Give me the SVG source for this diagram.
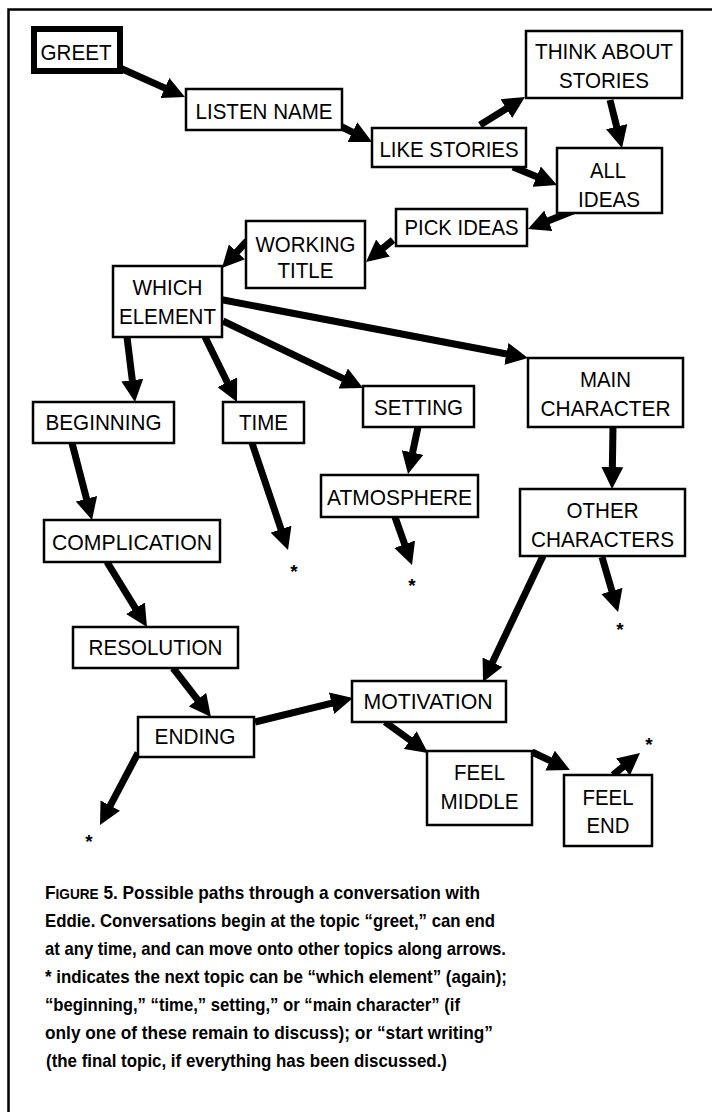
<svg xmlns="http://www.w3.org/2000/svg" width="712" height="1112" viewBox="0 0 712 1112">
<style>
.bx{fill:#fff;stroke:#000;stroke-width:2.5}
.lb{font-family:"Liberation Sans",Arial,sans-serif;font-size:22px;fill:#000;text-anchor:middle}
.ar{stroke:#000;stroke-width:7;fill:none;marker-end:url(#ah)}
.st{font-family:"Liberation Sans",Arial,sans-serif;font-size:19px;font-weight:bold;fill:#000;text-anchor:middle}
.cap{font-family:"Liberation Sans",Arial,sans-serif;font-size:19px;font-weight:bold;fill:#000}
</style>
<defs>
<marker id="ah" markerUnits="userSpaceOnUse" viewBox="0 0 22 22" refX="10" refY="11" markerWidth="22" markerHeight="22" orient="auto">
<path d="M0,0 L22,11 L0,22 Z" fill="#000"/>
</marker>
</defs>
<rect width="712" height="1112" fill="#fff"/>
<path d="M8.5,1112 V9.5 H712" fill="none" stroke="#000" stroke-width="2.5"/>

<g id="connectors">
<line class="ar" x1="120" y1="68" x2="174" y2="92.1"/>
<line class="ar" x1="338" y1="125" x2="361.3" y2="136.6"/>
<line class="ar" x1="480" y1="125" x2="514.8" y2="103.3"/>
<line class="ar" x1="610" y1="100" x2="619.1" y2="136.4"/>
<line class="ar" x1="513" y1="167" x2="545.9" y2="180.5"/>
<line class="ar" x1="573" y1="211" x2="539.1" y2="224.5"/>
<line class="ar" x1="393" y1="240" x2="375.3" y2="254.4"/>
<line class="ar" x1="247" y1="241" x2="230.1" y2="259.2"/>
<line class="ar" x1="127" y1="337" x2="133.5" y2="390.1"/>
<line class="ar" x1="205" y1="337" x2="231.7" y2="391.2"/>
<line class="ar" x1="223" y1="321" x2="352.2" y2="382.8"/>
<line class="ar" x1="218" y1="299" x2="516.2" y2="355.8"/>
<line class="ar" x1="72" y1="443" x2="89" y2="508.4"/>
<line class="ar" x1="252" y1="443" x2="284.2" y2="538.6"/>
<line class="ar" x1="418" y1="427" x2="410.5" y2="462.3"/>
<line class="ar" x1="395" y1="517" x2="408" y2="553.7"/>
<line class="ar" x1="613" y1="427" x2="612.2" y2="477"/>
<line class="ar" x1="107" y1="562" x2="140.7" y2="616.8"/>
<line class="ar" x1="173" y1="668" x2="203.6" y2="707.5"/>
<line class="ar" x1="255" y1="722" x2="341.3" y2="700.9"/>
<line class="ar" x1="138" y1="753" x2="105.6" y2="814.4"/>
<line class="ar" x1="543" y1="556" x2="488.2" y2="671.2"/>
<line class="ar" x1="602" y1="557" x2="614.7" y2="600.5"/>
<line class="ar" x1="385" y1="722" x2="418.3" y2="746"/>
<line class="ar" x1="532" y1="752" x2="559.1" y2="764.9"/>
<line class="ar" x1="613" y1="775" x2="630.7" y2="760.6"/>
</g>

<g id="greet"><rect x="34" y="29" width="86" height="42" fill="#fff" stroke="#000" stroke-width="6"/><text class="lb" x="76" y="60" textLength="71" lengthAdjust="spacingAndGlyphs">GREET</text></g>
<g id="listen-name"><rect class="bx" x="186" y="89" width="156" height="41"/><text class="lb" x="264" y="119" textLength="137" lengthAdjust="spacingAndGlyphs">LISTEN NAME</text></g>
<g id="think-about-stories"><rect class="bx" x="526" y="31" width="156" height="67"/><text class="lb" x="604" y="59" textLength="138" lengthAdjust="spacingAndGlyphs">THINK ABOUT</text><text class="lb" x="604" y="88" textLength="90" lengthAdjust="spacingAndGlyphs">STORIES</text></g>
<g id="like-stories"><rect class="bx" x="372" y="128" width="154" height="39"/><text class="lb" x="449" y="157" textLength="139" lengthAdjust="spacingAndGlyphs">LIKE STORIES</text></g>
<g id="all-ideas"><rect class="bx" x="557" y="148" width="105" height="65"/><text class="lb" x="608" y="178" textLength="36" lengthAdjust="spacingAndGlyphs">ALL</text><text class="lb" x="609" y="207" textLength="62" lengthAdjust="spacingAndGlyphs">IDEAS</text></g>
<g id="pick-ideas"><rect class="bx" x="396" y="209" width="131" height="37"/><text class="lb" x="461.5" y="235" textLength="114" lengthAdjust="spacingAndGlyphs">PICK IDEAS</text></g>
<g id="working-title"><rect class="bx" x="246" y="221" width="119" height="67"/><text class="lb" x="305.5" y="252" textLength="100" lengthAdjust="spacingAndGlyphs">WORKING</text><text class="lb" x="305.5" y="278" textLength="56" lengthAdjust="spacingAndGlyphs">TITLE</text></g>
<g id="which-element"><rect class="bx" x="113" y="266" width="109" height="71"/><text class="lb" x="167.5" y="295" textLength="70" lengthAdjust="spacingAndGlyphs">WHICH</text><text class="lb" x="167.5" y="324" textLength="97" lengthAdjust="spacingAndGlyphs">ELEMENT</text></g>
<g id="beginning"><rect class="bx" x="33" y="402" width="141" height="41"/><text class="lb" x="103.5" y="430" textLength="116" lengthAdjust="spacingAndGlyphs">BEGINNING</text></g>
<g id="time"><rect class="bx" x="223" y="402" width="81" height="41"/><text class="lb" x="263.5" y="430" textLength="49" lengthAdjust="spacingAndGlyphs">TIME</text></g>
<g id="setting"><rect class="bx" x="363" y="386" width="111" height="41"/><text class="lb" x="418.5" y="415" textLength="89" lengthAdjust="spacingAndGlyphs">SETTING</text></g>
<g id="main-character"><rect class="bx" x="528" y="358" width="155" height="69"/><text class="lb" x="605.5" y="387" textLength="51" lengthAdjust="spacingAndGlyphs">MAIN</text><text class="lb" x="605.5" y="416" textLength="130" lengthAdjust="spacingAndGlyphs">CHARACTER</text></g>
<g id="atmosphere"><rect class="bx" x="321" y="475" width="157" height="42"/><text class="lb" x="399.5" y="505" textLength="145" lengthAdjust="spacingAndGlyphs">ATMOSPHERE</text></g>
<g id="other-characters"><rect class="bx" x="520" y="489" width="165" height="67"/><text class="lb" x="602.5" y="518" textLength="72" lengthAdjust="spacingAndGlyphs">OTHER</text><text class="lb" x="602.5" y="547" textLength="143" lengthAdjust="spacingAndGlyphs">CHARACTERS</text></g>
<g id="complication"><rect class="bx" x="44" y="520" width="176" height="42"/><text class="lb" x="132" y="550" textLength="160" lengthAdjust="spacingAndGlyphs">COMPLICATION</text></g>
<g id="resolution"><rect class="bx" x="73" y="627" width="165" height="41"/><text class="lb" x="155.5" y="655" textLength="134" lengthAdjust="spacingAndGlyphs">RESOLUTION</text></g>
<g id="ending"><rect class="bx" x="138" y="717" width="116" height="40"/><text class="lb" x="195" y="744" textLength="81" lengthAdjust="spacingAndGlyphs">ENDING</text></g>
<g id="motivation"><rect class="bx" x="352" y="681" width="154" height="41"/><text class="lb" x="428" y="709" textLength="129" lengthAdjust="spacingAndGlyphs">MOTIVATION</text></g>
<g id="feel-middle"><rect class="bx" x="427" y="751" width="105" height="74"/><text class="lb" x="479.5" y="780" textLength="51" lengthAdjust="spacingAndGlyphs">FEEL</text><text class="lb" x="479.5" y="809" textLength="78" lengthAdjust="spacingAndGlyphs">MIDDLE</text></g>
<g id="feel-end"><rect class="bx" x="564" y="775" width="88" height="71"/><text class="lb" x="608" y="805" textLength="51" lengthAdjust="spacingAndGlyphs">FEEL</text><text class="lb" x="608" y="833" textLength="43" lengthAdjust="spacingAndGlyphs">END</text></g>

<g id="asterisks">
<text class="st" x="294" y="578">*</text>
<text class="st" x="412" y="592">*</text>
<text class="st" x="620" y="636">*</text>
<text class="st" x="89" y="848">*</text>
<text class="st" x="649" y="751">*</text>
</g>

<g id="caption">
<text class="cap" x="45" y="899" textLength="435" lengthAdjust="spacingAndGlyphs">F<tspan font-size="15">IGURE</tspan> 5. Possible paths through a conversation with</text>
<text class="cap" x="45" y="927" textLength="450" lengthAdjust="spacingAndGlyphs">Eddie. Conversations begin at the topic “greet,” can end</text>
<text class="cap" x="45" y="955" textLength="461" lengthAdjust="spacingAndGlyphs">at any time, and can move onto other topics along arrows.</text>
<text class="cap" x="45" y="983" textLength="462" lengthAdjust="spacingAndGlyphs">* indicates the next topic can be “which element” (again);</text>
<text class="cap" x="45" y="1011" textLength="415" lengthAdjust="spacingAndGlyphs">“beginning,” “time,” setting,” or “main character” (if</text>
<text class="cap" x="45" y="1039" textLength="448" lengthAdjust="spacingAndGlyphs">only one of these remain to discuss); or “start writing”</text>
<text class="cap" x="46" y="1067" textLength="401" lengthAdjust="spacingAndGlyphs">(the final topic, if everything has been discussed.)</text>
</g>
</svg>
